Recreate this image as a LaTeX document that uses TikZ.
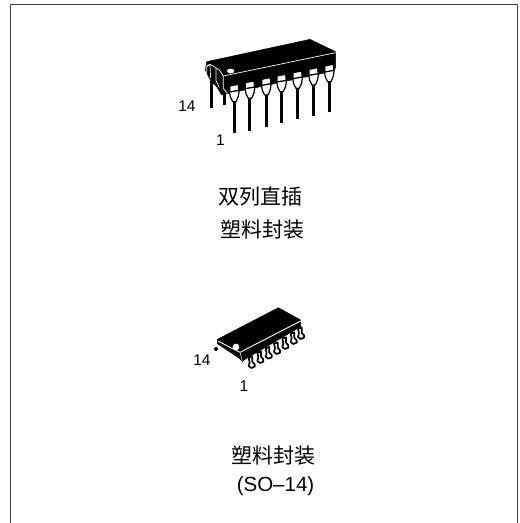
\documentclass[tikz,border=0pt]{standalone}
\usepackage{fontspec}
\setmainfont{Liberation Sans}
\newfontfamily\cjk{Noto Sans CJK SC}
\tikzset{
  frameline/.style={draw=black!75,line width=1.4pt},
  lbl/.style={inner sep=0pt,font=\fontsize{15.5}{18}\selectfont},
  captext/.style={inner sep=0pt,font=\fontsize{20.5}{24}\selectfont},
  capcjk/.style={inner sep=0pt,font=\cjk\fontsize{21}{24}\selectfont},
  bodyfill/.style={fill=black,draw=black,line join=round},
  whiteline/.style={draw=white,line width=0.7pt},
  pinface/.style={fill=white,draw=black,line width=1.2pt,line join=round},
}
\begin{document}
\begin{tikzpicture}[x=1pt,y=-1pt]
\useasboundingbox (0,0) rectangle (520,523);
\fill[white] (0,0) rectangle (520,523);
\coordinate (fa) at (10.5,523);
\coordinate (fb) at (10.5,4.5);
\coordinate (fc) at (517.5,4.5);
\coordinate (fd) at (517.5,523);
\draw[frameline] (fa) -- (fb) -- (fc) -- (fd);
% DIP package
\begin{scope}[shift={(190,10)},x=0.3333pt,y=-0.3333pt]
  % rear pins
  \fill (60,200) rectangle (70,295);
  \fill (99,230) rectangle (109,284);
  % body
  \fill[bodyfill] (50,155) -- (360,88) -- (437,125) -- (437,172) -- (432,183) -- (118,250) -- (95,255) -- (80,230) -- (60,212) -- (46,180) -- cycle;
  \draw[whiteline] (437,128) -- (100,198) -- (88,180) -- (60,163) -- (50,168);
  \draw[whiteline] (100,198) -- (100,235) -- (112,250);
  \draw[whiteline] (60,163) -- (50,170) -- (50,195) -- (60,212);
  \draw[whiteline] (78,172) -- (78,212) -- (88,232);
  \draw[whiteline] (60,165) -- (62,205);
  \fill[white] (122,183) ellipse (11 and 7);
  % front pins
  \foreach \cx/\ty/\by in {133/225/370,180/215/362,229/205/350,275/195/340,323/185/328,371/175/318,418/165/307}{
    \fill (\cx-4.5,\ty+40) rectangle (\cx+4.5,\by);
    \draw[pinface] (\cx-14,\ty+3) -- (\cx+12,\ty-2) -- (\cx+14,\ty+20) -- (\cx+12,\ty+34) -- (\cx+5,\ty+50) -- (\cx-5,\ty+50) -- (\cx-12,\ty+36) -- (\cx-14,\ty+24) -- cycle;
    \fill (\cx-14,\ty+19) -- (\cx+14,\ty+14) -- (\cx+14,\ty+18) -- (\cx-14,\ty+23) -- cycle;
  }
\end{scope}
\node[lbl] (a14) at (187,106) {14};
\node[lbl] (a1) at (220.5,140) {1};
\node[capcjk] (c1) at (260,197) {双列直插};
\node[capcjk] (c2) at (262,229.5) {塑料封装};
% SOP package
\begin{scope}[shift={(210,295)},x=0.3333pt,y=-0.3333pt]
  \fill[rounded corners=2pt] (12,156) rectangle (24,168);
  \foreach \fx/\fy in {124/212,150/197,175/184,200/170,225/155,250/140,272/125}{
    \draw[pinface,line width=1.7pt] (\fx-8,\fy-24) -- (\fx+3,\fy-28) -- (\fx+3,\fy-12) -- (\fx+10,\fy-4) -- (\fx+10,\fy+3) -- (\fx,\fy+7) -- (\fx-8,\fy+1) -- (\fx-5,\fy-10) -- cycle;
  }
  \fill[bodyfill] (22,133) -- (205,38) -- (272,75) -- (272,95) -- (105,193) -- (97,200) -- (88,190) -- (22,146) -- cycle;
  \draw[whiteline,line width=0.9pt] (25,139) -- (90,172) -- (272,78);
  \draw[whiteline,line width=0.5pt] (90,172) -- (97,198);
  \fill[white] (78,156) circle (10);
\end{scope}
\node[lbl] (b14) at (202,360) {14};
\node[lbl] (b1) at (244,386) {1};
\node[capcjk] (c3) at (273.5,456) {塑料封装};
\node[captext] (c4) at (275.5,486.5) {(SO–14)};
\end{tikzpicture}
\end{document}
